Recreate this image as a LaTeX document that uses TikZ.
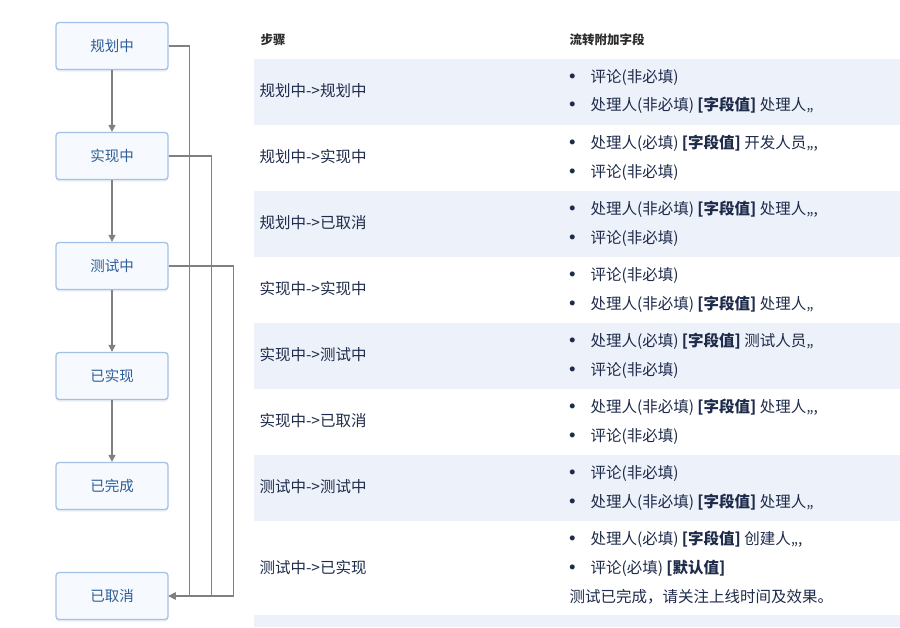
\documentclass[tikz,border=0pt]{standalone}
\usepackage{fontspec}
\setmainfont{Noto Sans CJK SC}
\usetikzlibrary{positioning, arrows.meta, shadows}
\definecolor{flowblue}{HTML}{2E5E97}
\definecolor{flowedge}{HTML}{A3C1E6}
\definecolor{flowfill}{HTML}{F6F9FE}
\definecolor{linegray}{HTML}{808080}
\definecolor{rowshade}{HTML}{EDF1FA}
\definecolor{tabtext}{HTML}{1E2B4A}
\definecolor{headtext}{HTML}{2B2B2B}
\tikzset{
    statebox/.style={rectangle, rounded corners=3pt, draw=flowedge, fill=flowfill, line width=1.3pt, minimum width=112pt, minimum height=47pt, align=center, font=\fontsize{14.5}{16}\selectfont, text=flowblue, drop shadow={shadow xshift=0pt, shadow yshift=-2pt, opacity=0.25, fill=flowedge}},
    arr/.style={-{Triangle[length=7pt, width=7pt]}, line width=1.1pt, color=linegray},
    rowband/.style={fill=rowshade, draw=none},
    headlbl/.style={anchor=west, font=\fontsize{12.5}{14}\selectfont\bfseries, text=headtext},
    steplbl/.style={anchor=west, font=\fontsize{15.5}{17}\selectfont, text=tabtext},
    fieldlbl/.style={anchor=west, font=\fontsize{15.5}{17}\selectfont, text=tabtext}
}
\newcommand{\itm}{\makebox[21pt][l]{\fontsize{5.5}{6}\selectfont\raisebox{3.5pt}{●}}}

\begin{document}
\begin{tikzpicture}[x=1pt, y=-1pt]
    \useasboundingbox (0,0) rectangle (900,627);

    % Row bands
    \foreach \y in {59,191,323,455}
        \fill[rowband] (254,\y) rectangle (900,\y+66);
    \fill[rowband] (254,615) rectangle (900,627);

    % States
    \node[statebox] (plan) at (112,46) {规划中};
    \node[statebox] (impl) at (112,156) {实现中};
    \node[statebox] (test) at (112,266) {测试中};
    \node[statebox] (done) at (112,376) {已实现};
    \node[statebox] (fin) at (112,486) {已完成};
    \node[statebox] (cancel) at (112,596) {已取消};

    % Flow arrows
    \draw[arr] (plan) -- (impl);
    \draw[arr] (impl) -- (test);
    \draw[arr] (test) -- (done);
    \draw[arr] (done) -- (fin);
    \draw[arr] (plan.east) -- ++(21,0) |- (cancel.east);
    \draw[arr] (impl.east) -- ++(43,0) |- (cancel.east);
    \draw[arr] (test.east) -- ++(65,0) |- (cancel.east);

    % Header
    \node[headlbl] (hstep) at (257,40) {步骤};
    \node[headlbl] (hfield) at (566,40) {流转附加字段};

    % Steps
    \node[steplbl] (s1) at (256,91) {规划中->规划中};
    \node[steplbl] (s2) at (256,157) {规划中->实现中};
    \node[steplbl] (s3) at (256,223) {规划中->已取消};
    \node[steplbl] (s4) at (256,289) {实现中->实现中};
    \node[steplbl] (s5) at (256,355) {实现中->测试中};
    \node[steplbl] (s6) at (256,421) {实现中->已取消};
    \node[steplbl] (s7) at (256,487) {测试中->测试中};
    \node[steplbl] (s8) at (256,568) {测试中->已实现};

    % Fields
    \node[fieldlbl] (f1a) at (566,77) {\itm 评论(非必填)};
    \node[fieldlbl] (f1b) at (566,105) {\itm 处理人(非必填) \textbf{[字段值]} 处理人,,};
    \node[fieldlbl] (f2a) at (566,143) {\itm 处理人(必填) \textbf{[字段值]} 开发人员,,,};
    \node[fieldlbl] (f2b) at (566,172) {\itm 评论(非必填)};
    \node[fieldlbl] (f3a) at (566,209) {\itm 处理人(非必填) \textbf{[字段值]} 处理人,,,};
    \node[fieldlbl] (f3b) at (566,238) {\itm 评论(非必填)};
    \node[fieldlbl] (f4a) at (566,275) {\itm 评论(非必填)};
    \node[fieldlbl] (f4b) at (566,304) {\itm 处理人(非必填) \textbf{[字段值]} 处理人,,};
    \node[fieldlbl] (f5a) at (566,341) {\itm 处理人(必填) \textbf{[字段值]} 测试人员,,};
    \node[fieldlbl] (f5b) at (566,370) {\itm 评论(非必填)};
    \node[fieldlbl] (f6a) at (566,407) {\itm 处理人(非必填) \textbf{[字段值]} 处理人,,,};
    \node[fieldlbl] (f6b) at (566,436) {\itm 评论(非必填)};
    \node[fieldlbl] (f7a) at (566,473) {\itm 评论(非必填)};
    \node[fieldlbl] (f7b) at (566,502) {\itm 处理人(非必填) \textbf{[字段值]} 处理人,,};
    \node[fieldlbl] (f8a) at (566,539) {\itm 处理人(必填) \textbf{[字段值]} 创建人,,,};
    \node[fieldlbl] (f8b) at (566,568) {\itm 评论(必填) \textbf{[默认值]}};
    \node[fieldlbl] (f8c) at (566,597) {测试已完成，请关注上线时间及效果。};
\end{tikzpicture}
\end{document}
